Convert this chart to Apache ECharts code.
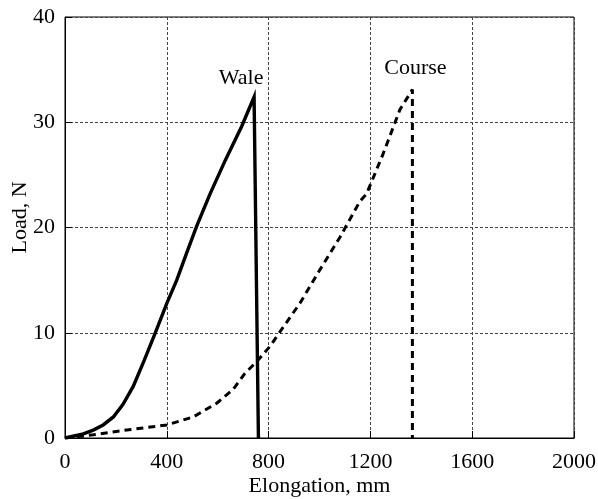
<!DOCTYPE html>
<html>
<head>
<meta charset="utf-8">
<script src="https://cdn.jsdelivr.net/npm/echarts@6/dist/echarts.min.js"></script>
<style>
  html, body { margin: 0; padding: 0; background: #fff; }
  #chart { width: 598px; height: 499px; }
</style>
</head>
<body>
<div id="chart"></div>
<script>
// 数据：伸长量 (mm) 与 载荷 (N)
const waleElong = [0, 72, 111, 150, 190, 228, 268, 310, 354, 400, 439, 480, 517, 570, 630, 694, 743, 760];
const waleLoad = [0, 0.4, 0.75, 1.24, 2.0, 3.2, 4.9, 7.3, 9.95, 12.8, 15.0, 17.7, 20.1, 23.2, 26.4, 29.6, 32.4, 0];

const courseElong = [0, 111, 242, 400, 504, 596, 660, 707, 753, 805, 845, 923, 1002, 1081, 1159, 1185, 1250, 1316, 1365, 1365];
const courseLoad = [0, 0.3, 0.76, 1.24, 2.0, 3.3, 4.6, 6.15, 7.25, 8.7, 10.1, 12.8, 16.0, 19.1, 22.5, 23.2, 27.0, 31.2, 33.1, 0];

const xTicks = [0, 400, 800, 1200, 1600, 2000];
const yTicks = [0, 10, 20, 30, 40];

// 峰值标注
const waleLabel = "Wale";
const courseLabel = "Course";

const fontBase = { fontFamily: "Liberation Serif", fontSize: 22, color: "#000" };

const toPairs = (xs, ys) => xs.map((x, i) => [x, ys[i]]);

const peakMark = (xs, ys, idx, text, offset) => ({
  symbol: "circle",
  symbolSize: 0,
  silent: true,
  data: [
    {
      coord: [xs[idx], ys[idx]],
      label: {
        show: true,
        formatter: text,
        position: "top",
        distance: 8,
        offset: offset,
        ...fontBase,
      },
    },
  ],
});

const chart = echarts.init(document.getElementById("chart"));

chart.setOption({
  animation: false,
  grid: {
    left: 65,
    right: 24,
    top: 17,
    bottom: 61,
    outerBoundsMode: "none",
    containLabel: false,
    show: true,
    borderColor: "#000",
    borderWidth: 1,
  },
  xAxis: {
    type: "value",
    min: xTicks[0],
    max: xTicks[xTicks.length - 1],
    interval: 400,
    name: "Elongation, mm",
    nameLocation: "middle",
    nameGap: 37,
    nameMoveOverlap: false,
    nameTextStyle: fontBase,
    axisLine: { lineStyle: { color: "#000", width: 1 } },
    axisTick: { show: true, inside: true, length: 7, lineStyle: { color: "#000" } },
    axisLabel: { ...fontBase, margin: 13, formatter: (v) => String(v) },
    splitLine: {
      show: true,
      lineStyle: { type: [3, 2], color: "#444", width: 1 },
    },
  },
  yAxis: {
    type: "value",
    min: yTicks[0],
    max: yTicks[yTicks.length - 1],
    interval: 10,
    name: "Load, N",
    nameLocation: "middle",
    nameGap: 34,
    nameMoveOverlap: false,
    nameTextStyle: { ...fontBase, padding: [0, 0, 0, 20] },
    axisLine: { show: true, lineStyle: { color: "#000", width: 1 } },
    axisTick: { show: true, inside: true, length: 7, lineStyle: { color: "#000" } },
    axisLabel: { ...fontBase, margin: 10 },
    splitLine: {
      show: true,
      lineStyle: { type: [3, 2], color: "#444", width: 1 },
    },
  },
  series: [
    {
      name: "Wale",
      type: "line",
      symbol: "none",
      lineStyle: { color: "#000", width: 3.4, join: "miter" },
      data: toPairs(waleElong, waleLoad),
      markPoint: peakMark(waleElong, waleLoad, 16, waleLabel, [-13, 0]),
    },
    {
      name: "Course",
      type: "line",
      symbol: "none",
      lineStyle: { color: "#000", width: 3, type: [7, 5] },
      data: toPairs(courseElong, courseLoad),
      markPoint: peakMark(courseElong, courseLoad, 18, courseLabel, [3, -2]),
    },
  ],
});
</script>
</body>
</html>
